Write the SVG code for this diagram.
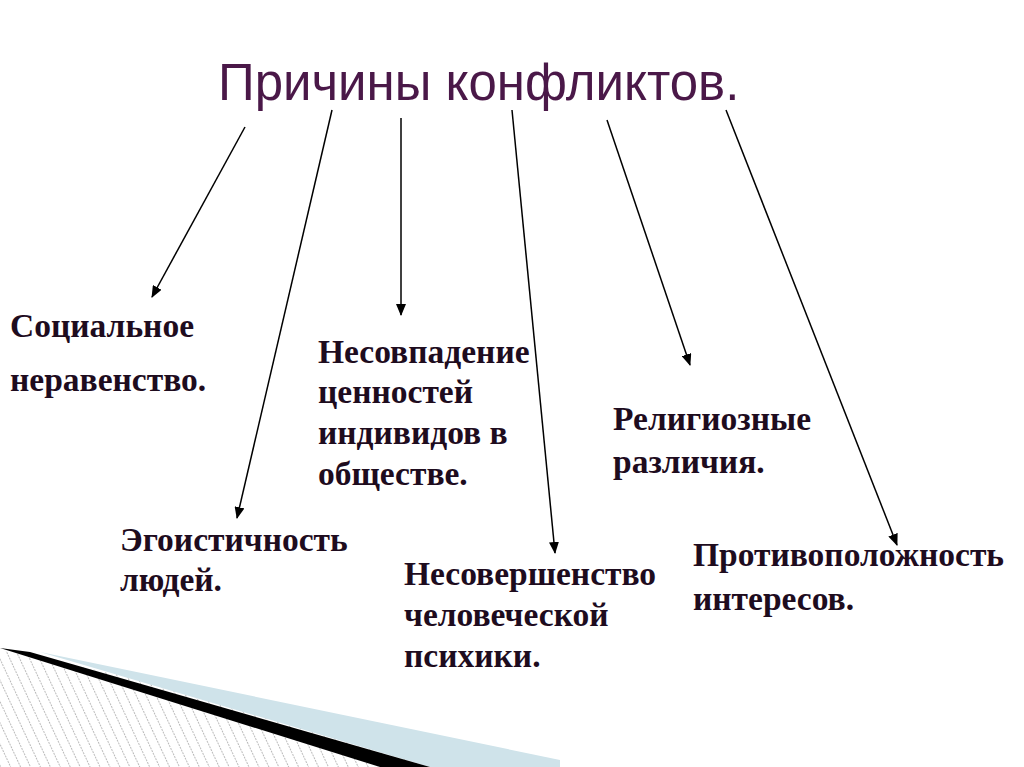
<svg xmlns="http://www.w3.org/2000/svg" width="1024" height="767" viewBox="0 0 1024 767">
<style>
.t{font-family:"Liberation Serif",serif;font-weight:bold;font-size:33.5px;fill:#1e0c1e}
.c line{stroke:#000;stroke-width:1.5;marker-end:url(#a)}
</style>
<defs>
<marker id="a" markerWidth="12" markerHeight="10" refX="11" refY="5" orient="auto" markerUnits="userSpaceOnUse"><path d="M0,0L12,5L0,10z" fill="#000"/></marker>
<pattern id="h" width="9" height="9" patternUnits="userSpaceOnUse" patternTransform="rotate(-25)"><line x1="0" y1="0" x2="0" y2="9" stroke="#777" stroke-width="1" stroke-dasharray="2,1"/></pattern>
</defs>
<rect width="1024" height="767" fill="#fff"/>
<g id="deco">
<path d="M0,650L560,767L0,767z" fill="url(#h)"/>
<path d="M40,652L560,760L560,767L430,767z" fill="#cfe3ea"/>
<path d="M0,648L30,652L430,767L380,767z" fill="#000"/>
</g>
<g id="title"><text x="218" y="100" font-family="Liberation Sans,sans-serif" font-size="51" fill="#4a1848">Причины конфликтов.</text></g>
<g class="c" id="connectors">
<line x1="245" y1="127" x2="152" y2="297"/>
<line x1="332" y1="110" x2="237" y2="518"/>
<line x1="401" y1="118" x2="401" y2="315"/>
<line x1="512" y1="110" x2="555" y2="553"/>
<line x1="607" y1="120" x2="690" y2="365"/>
<line x1="726" y1="110" x2="897" y2="545"/>
</g>
<g id="n1"><text class="t" x="10" y="337">Социальное</text><text class="t" x="10" y="391">неравенство.</text></g>
<g id="n2"><text class="t" x="120" y="551">Эгоистичность</text><text class="t" x="120" y="591">людей.</text></g>
<g id="n3"><text class="t" x="318" y="363">Несовпадение</text><text class="t" x="318" y="403">ценностей</text><text class="t" x="318" y="444">индивидов в</text><text class="t" x="318" y="485">обществе.</text></g>
<g id="n4"><text class="t" x="404" y="585">Несовершенство</text><text class="t" x="404" y="626">человеческой</text><text class="t" x="404" y="667">психики.</text></g>
<g id="n5"><text class="t" x="613" y="430">Религиозные</text><text class="t" x="613" y="473">различия.</text></g>
<g id="n6"><text class="t" x="693" y="566">Противоположность</text><text class="t" x="693" y="610">интересов.</text></g>
</svg>
